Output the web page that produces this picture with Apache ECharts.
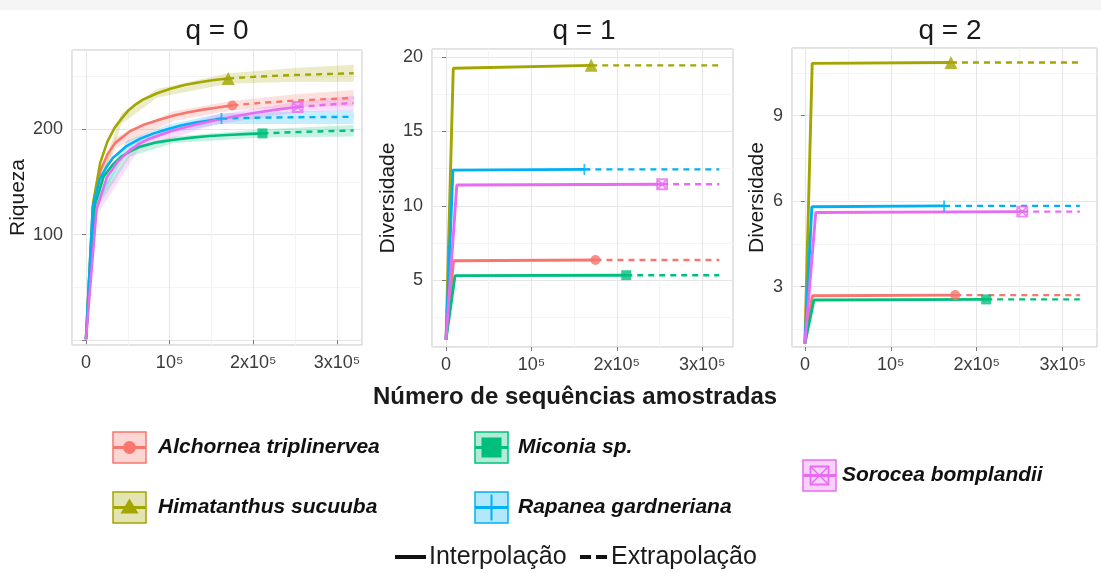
<!DOCTYPE html>
<html>
<head>
<meta charset="utf-8">
<title>Curvas de rarefação</title>
<script src="https://cdn.jsdelivr.net/npm/echarts@6.0.0/dist/echarts.min.js"></script>
<style>
  html, body { margin: 0; padding: 0; background: #fff; }
  #chart { width: 1101px; height: 573px; }
</style>
</head>
<body>
<div id="chart"></div>
<script>
const species = ['Alchornea triplinervea', 'Himatanthus sucuuba', 'Miconia sp.', 'Rapanea gardneriana', 'Sorocea bomplandii']
const colors = ['#F8766D', '#A3A500', '#00BF7D', '#00B0F6', '#E76BF3']
const panelTitles = ['q = 0', 'q = 1', 'q = 2']
const yTitles = ['Riqueza', 'Diversidade', 'Diversidade']
const xTickValues = [0, 100000, 200000, 300000]
const xTickLabels = ['0', '10⁵', '2x10⁵', '3x10⁵']

// q = 0 : riqueza (interpolação / extrapolação), [amostras, valor]
const q0Interp = [
  [[1, 1], [8750, 128], [17500, 161], [26250, 177], [35000, 187], [52500, 198], [70000, 204.5], [87500, 209], [105000, 213], [122500, 216], [140000, 218.5], [157500, 220.5], [175000, 222.5]],
  [[1, 1], [8500, 130], [17000, 168], [25500, 188], [34000, 201], [42500, 210], [51000, 218], [59500, 223.5], [68000, 228], [85000, 234], [102000, 238.5], [119000, 242], [136000, 244.5], [153000, 246.5], [170000, 248]],
  [[1, 1], [10550, 128], [21100, 155], [31650, 166], [42200, 174], [52750, 179], [63300, 183], [84400, 187.5], [105500, 190], [126600, 192], [147700, 193.5], [168800, 194.5], [189900, 195.3], [211000, 196]],
  [[1, 1], [8100, 126], [16200, 152], [24300, 164], [32400, 173], [48600, 184], [64800, 191], [81000, 196], [97200, 200], [113400, 203.5], [129600, 206], [145800, 208], [162000, 210]],
  [[1, 1], [12650, 124], [25300, 155], [37950, 169], [50600, 179], [63250, 186], [75900, 191], [101200, 198], [126500, 203.5], [151800, 208], [177100, 212], [202400, 215.5], [227700, 218.5], [253000, 221]]
]
const q0Extrap = [
  [[175000, 222.5], [210000, 225], [245000, 226.8], [280000, 228.2], [320000, 229.5]],
  [[170000, 248], [200000, 249.5], [230000, 250.7], [260000, 251.6], [290000, 252.3], [320000, 253]],
  [[211000, 196], [250000, 197.2], [285000, 198], [320000, 198.7]],
  [[162000, 210], [200000, 210.8], [250000, 211.3], [320000, 211.7]],
  [[253000, 221], [290000, 223.3], [320000, 224.8]]
]
// intervalo de confiança: [amostras, inferior, superior]
const q0Band = [
  [[1, 1, 1], [8750, 122, 134], [35000, 182, 192], [105000, 208, 217], [175000, 218, 227], [250000, 221, 233], [320000, 222, 237]],
  [[1, 1, 1], [8500, 125, 137], [42500, 205, 215], [85000, 230, 238], [170000, 243, 253], [250000, 245, 258], [320000, 245, 261]],
  [[1, 1, 1], [10550, 122, 133], [52750, 174, 183], [105500, 187, 193], [211000, 192, 200], [320000, 193, 204]],
  [[1, 1, 1], [8100, 120, 131], [48600, 179, 189], [97200, 196, 204], [162000, 205, 215], [320000, 205, 218]],
  [[1, 1, 1], [12650, 118, 129], [63250, 181, 191], [151800, 204, 213], [253000, 216, 226], [320000, 218, 232]]
]

// q = 1
const q1Interp = [
  [[1, 1], [8750, 6.3], [175000, 6.35]],
  [[1, 1], [8500, 19.25], [170000, 19.45]],
  [[1, 1], [10550, 5.3], [211000, 5.33]],
  [[1, 1], [8100, 12.4], [162000, 12.45]],
  [[1, 1], [12650, 11.4], [253000, 11.45]]
]
const q1Extrap = [
  [[175000, 6.35], [320000, 6.35]],
  [[170000, 19.45], [320000, 19.45]],
  [[211000, 5.33], [320000, 5.33]],
  [[162000, 12.45], [320000, 12.45]],
  [[253000, 11.45], [320000, 11.45]]
]

// q = 2
const q2Interp = [
  [[1, 1], [8750, 2.68], [175000, 2.7]],
  [[1, 1], [8500, 10.83], [170000, 10.86]],
  [[1, 1], [10550, 2.53], [211000, 2.55]],
  [[1, 1], [8100, 5.8], [162000, 5.83]],
  [[1, 1], [12650, 5.6], [253000, 5.63]]
]
const q2Extrap = [
  [[175000, 2.7], [320000, 2.7]],
  [[170000, 10.86], [320000, 10.86]],
  [[211000, 2.55], [320000, 2.55]],
  [[162000, 5.83], [320000, 5.83]],
  [[253000, 5.63], [320000, 5.63]]
]

const interpAll = [q0Interp, q1Interp, q2Interp]
const extrapAll = [q0Extrap, q1Extrap, q2Extrap]

// layout of the three panels
const grids = [
  { left: 72, top: 50, width: 290, height: 295 },
  { left: 432, top: 49, width: 301, height: 298 },
  { left: 792, top: 48, width: 305, height: 299 }
]
const xRanges = [[-16700, 330000], [-16400, 336000], [-15000, 340000]]
const yRanges = [[-4.5, 275], [0.5, 20.55], [0.88, 11.37]]
const ySplit = [2, 4, 3]
const yNameGap = [40, 26, 24]
const titleX = [217, 584, 950]

const FONT = 'Liberation Sans, Arial, sans-serif'

const markers = [
  { symbol: 'circle', size: 10, fill: true },
  { symbol: 'triangle', size: 13, fill: true },
  { symbol: 'rect', size: 10, fill: true },
  { symbol: 'path://M5,0L5,10M0,5L10,5', size: 11, fill: false },
  { symbol: 'path://M0,0L10,0L10,10L0,10ZM0,0L10,10M10,0L0,10', size: 10, fill: false }
]

function xAxisFor(p) {
  return {
    type: 'value', gridIndex: p, min: xRanges[p][0], max: xRanges[p][1], splitNumber: 3,
    axisLine: { show: false },
    axisTick: { show: true, length: 4, lineStyle: { color: '#777' } },
    axisLabel: {
      margin: 9, fontSize: 18, color: '#3b3b3b', fontFamily: FONT,
      showMinLabel: false, showMaxLabel: false,
      formatter: function (v) {
        const k = xTickValues.indexOf(v)
        return k >= 0 ? xTickLabels[k] : ''
      }
    },
    splitLine: { show: true, lineStyle: { color: '#E6E6E6' } },
    minorTick: { show: false, splitNumber: 2 },
    minorSplitLine: { show: true, lineStyle: { color: '#F4F4F4' } }
  }
}

function yAxisFor(p) {
  return {
    type: 'value', gridIndex: p, min: yRanges[p][0], max: yRanges[p][1], splitNumber: ySplit[p],
    name: yTitles[p], nameLocation: 'middle', nameGap: yNameGap[p],
    nameTextStyle: { fontSize: 21, color: '#1a1a1a', fontFamily: FONT },
    axisLine: { show: false },
    axisTick: { show: true, length: 4, lineStyle: { color: '#777' } },
    axisLabel: {
      margin: 9, fontSize: 18, color: '#3b3b3b', fontFamily: FONT,
      showMinLabel: false, showMaxLabel: false,
      formatter: function (v) { return (p === 0 && v === 0) ? '' : String(v) }
    },
    splitLine: { show: true, lineStyle: { color: '#E6E6E6' } },
    minorTick: { show: false, splitNumber: 2 },
    minorSplitLine: { show: true, lineStyle: { color: '#F4F4F4' } }
  }
}

function bandSeries(i) {
  return {
    type: 'custom', xAxisIndex: 0, yAxisIndex: 0, silent: true, z: 1, clip: true,
    data: [[0, 0]],
    renderItem: function (params, api) {
      const band = q0Band[i]
      const upper = band.map(b => api.coord([b[0], b[2]]))
      const lower = band.map(b => api.coord([b[0], b[1]])).reverse()
      return {
        type: 'polygon',
        shape: { points: upper.concat(lower) },
        style: { fill: colors[i], opacity: 0.22 }
      }
    }
  }
}

function buildSeries() {
  const series = []
  for (let i = 0; i < species.length; i++) series.push(bandSeries(i))
  for (let p = 0; p < 3; p++) {
    for (let i = 0; i < species.length; i++) {
      const interp = interpAll[p][i]
      const c = colors[i]
      const w = p === 0 ? 2.6 : 2.9
      series.push({
        type: 'line', xAxisIndex: p, yAxisIndex: p, data: interp, showSymbol: false, silent: true, z: 3,
        lineStyle: { color: c, width: w }
      })
      series.push({
        type: 'line', xAxisIndex: p, yAxisIndex: p, data: extrapAll[p][i], showSymbol: false, silent: true, z: 3,
        lineStyle: { color: c, width: 2.4, type: [6, 5] }
      })
      const m = markers[i]
      series.push({
        type: 'scatter', xAxisIndex: p, yAxisIndex: p, silent: true, z: 4,
        data: [interp[interp.length - 1]],
        symbol: m.symbol, symbolSize: m.size,
        itemStyle: m.fill ? { color: c } : { color: 'transparent', borderColor: c, borderWidth: 1.8 }
      })
    }
  }
  return series
}

// legend key: box + line + symbol
const legendLayout = [
  { x: 113, y: 432, tx: 158 },
  { x: 113, y: 492, tx: 158 },
  { x: 475, y: 432, tx: 518 },
  { x: 475, y: 492, tx: 518 },
  { x: 803, y: 460, tx: 842 }
]
const KEY_W = 33
const KEY_H = 31

function keySymbol(i, cx, cy, c) {
  if (i === 0) return [{ type: 'circle', shape: { cx: cx, cy: cy, r: 6.5 }, style: { fill: c } }]
  if (i === 1) return [{ type: 'polygon', shape: { points: [[cx, cy - 9], [cx + 9, cy + 6], [cx - 9, cy + 6]] }, style: { fill: c } }]
  if (i === 2) return [{ type: 'rect', shape: { x: cx - 10, y: cy - 10, width: 20, height: 20 }, style: { fill: c } }]
  if (i === 3) return [
    { type: 'line', shape: { x1: cx, y1: cy - 13, x2: cx, y2: cy + 13 }, style: { stroke: c, lineWidth: 2 } }
  ]
  return [
    { type: 'rect', shape: { x: cx - 9, y: cy - 9, width: 18, height: 18 }, style: { fill: 'none', stroke: c, lineWidth: 1.8 } },
    { type: 'line', shape: { x1: cx - 9, y1: cy - 9, x2: cx + 9, y2: cy + 9 }, style: { stroke: c, lineWidth: 1.5 } },
    { type: 'line', shape: { x1: cx + 9, y1: cy - 9, x2: cx - 9, y2: cy + 9 }, style: { stroke: c, lineWidth: 1.5 } }
  ]
}

function buildGraphic() {
  const g = []
  g.push({ type: 'rect', shape: { x: 0, y: 0, width: 1101, height: 10 }, style: { fill: '#F5F5F5' }, z: -10 })
  panelTitles.forEach((t, p) => {
    g.push({ type: 'text', x: titleX[p], y: 31, style: { text: t, fontSize: 28, fontFamily: FONT, fill: '#1a1a1a', align: 'center', verticalAlign: 'middle' } })
  })
  g.push({ type: 'text', x: 575, y: 397, style: { text: 'Número de sequências amostradas', fontSize: 24, fontWeight: 'bold', fontFamily: FONT, fill: '#1a1a1a', align: 'center', verticalAlign: 'middle' } })

  species.forEach((name, i) => {
    const L = legendLayout[i]
    const c = colors[i]
    const cx = L.x + KEY_W / 2
    const cy = L.y + KEY_H / 2
    g.push({ type: 'rect', shape: { x: L.x, y: L.y, width: KEY_W, height: KEY_H }, style: { fill: c, opacity: 0.3 } })
    g.push({ type: 'rect', shape: { x: L.x, y: L.y, width: KEY_W, height: KEY_H }, style: { fill: 'none', stroke: c, lineWidth: 1.5 } })
    g.push({ type: 'line', shape: { x1: L.x, y1: cy, x2: L.x + KEY_W, y2: cy }, style: { stroke: c, lineWidth: 3 } })
    keySymbol(i, cx, cy, c).forEach(s => g.push(s))
    g.push({ type: 'text', x: L.tx, y: cy, style: { text: name, fontSize: 21, fontWeight: 'bold', fontStyle: 'italic', fontFamily: FONT, fill: '#111', align: 'left', verticalAlign: 'middle' } })
  })

  // linetype legend
  g.push({ type: 'rect', shape: { x: 395, y: 555, width: 31, height: 4 }, style: { fill: '#111' } })
  g.push({ type: 'text', x: 429, y: 557, style: { text: 'Interpolação', fontSize: 25, fontFamily: FONT, fill: '#1a1a1a', align: 'left', verticalAlign: 'middle' } })
  g.push({ type: 'rect', shape: { x: 580, y: 555, width: 11, height: 4 }, style: { fill: '#111' } })
  g.push({ type: 'rect', shape: { x: 596, y: 555, width: 11, height: 4 }, style: { fill: '#111' } })
  g.push({ type: 'text', x: 611, y: 557, style: { text: 'Extrapolação', fontSize: 25, fontFamily: FONT, fill: '#1a1a1a', align: 'left', verticalAlign: 'middle' } })
  return g
}

const chart = echarts.init(document.getElementById('chart'))
chart.setOption({
  animation: false,
  backgroundColor: '#fff',
  grid: grids.map(g => Object.assign({ show: true, borderColor: '#C4C4C4', borderWidth: 1, backgroundColor: 'transparent' }, g)),
  xAxis: [0, 1, 2].map(xAxisFor),
  yAxis: [0, 1, 2].map(yAxisFor),
  series: buildSeries(),
  graphic: buildGraphic()
})
</script>
</body>
</html>
